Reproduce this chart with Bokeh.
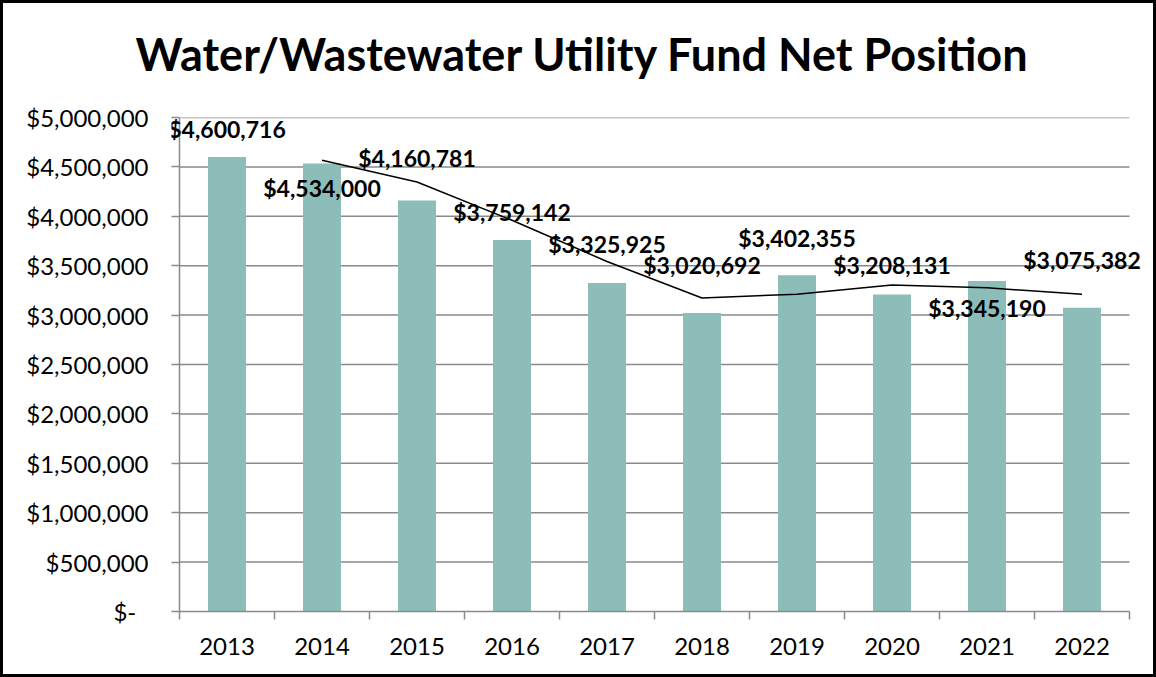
from bokeh.plotting import figure
from bokeh.models import Range1d, FixedTicker, ColumnDataSource, Label, Title
from bokeh.embed import file_html
from bokeh.resources import INLINE
import numpy as np

# ---- data ----
title = "Water/Wastewater Utility Fund Net Position"
years = ["2013", "2014", "2015", "2016", "2017", "2018", "2019", "2020", "2021", "2022"]
net_position = [4600716, 4534000, 4160781, 3759142, 3325925, 3020692, 3402355, 3208131, 3345190, 3075382]
y_ticks = [0, 500000, 1000000, 1500000, 2000000, 2500000, 3000000, 3500000, 4000000, 4500000, 5000000]
y_tick_labels = ["$-\u00a0\u00a0", "$500,000", "$1,000,000", "$1,500,000", "$2,000,000", "$2,500,000",
                 "$3,000,000", "$3,500,000", "$4,000,000", "$4,500,000", "$5,000,000"]

# label placement (pixel offsets, up = positive; style only)
label_y_offset = [27.5, -24, 42, 28, 38.5, 48.5, 37, 29.5, -27.5, 47.5]

FONT = "Lato"
BAR = "#8cbdb9"
GRID = "#8a8a8a"

n = len(years)
x = np.arange(n) + 0.5
# two-period moving average trendline (as in the source chart)
ma_x = x[1:]
ma_y = [(net_position[i - 1] + net_position[i]) / 2 for i in range(1, n)]

src = ColumnDataSource(dict(x=x, top=net_position))

# ---- layout (pixels) ----
W, H = 1156, 677
CAT_PX = 95.0                      # pixel width of one category
AX_L, AX_B, AX_T = 179, 611, 117   # value-axis left, zero line, top line
FRAME_L, FRAME_R = 171, 1142

p = figure(width=W, height=H, output_backend="svg", toolbar_location=None,
           x_range=Range1d((FRAME_L - AX_L) / CAT_PX, (FRAME_R - AX_L) / CAT_PX),
           y_range=Range1d(0, y_ticks[-1]),
           min_border_left=FRAME_L, min_border_right=W - FRAME_R,
           min_border_top=AX_T, min_border_bottom=H - AX_B,
           styles={"background-color": "white",
                   "box-shadow": "inset 0 0 0 3px black"})
p.outline_line_color = None
p.background_fill_color = None
p.border_fill_color = None

# main title (outermost panel)
p.title.text = title
p.title.text_font = FONT
p.title.text_font_style = "bold"
p.title.text_font_size = "45px"
p.title.text_color = "black"
p.title.align = "left"
p.title.offset = -36
p.title.standoff = 47
# small spacer between title and plot area
p.add_layout(Title(text="\u00a0", text_font=FONT, text_font_size="8px", standoff=1), "above")

# horizontal gridlines and value-axis line, limited to the plot span
p.segment(x0=0, x1=n, y0=y_ticks[1:], y1=y_ticks[1:], line_color=GRID, line_width=1.5)
p.segment(x0=0, x1=0, y0=0, y1=y_ticks[-1], line_color=GRID, line_width=1.5)

p.vbar(x="x", top="top", width=0.4, bottom=0, source=src, fill_color=BAR, line_color=None)
p.line(ma_x, ma_y, line_color="black", line_width=1.5)
for xi, v, off in zip(x, net_position, label_y_offset):
    p.add_layout(Label(x=xi, y=v, text="${:,}".format(v), y_offset=off,
                       text_font=FONT, text_font_style="bold", text_font_size="23px",
                       text_align="center", text_baseline="middle", text_color="black"))

# axes
p.xgrid.visible = False
p.ygrid.visible = False

p.yaxis.ticker = FixedTicker(ticks=y_ticks)
p.yaxis.major_label_overrides = {t: l for t, l in zip(y_ticks, y_tick_labels)}
p.yaxis.axis_line_color = None
p.yaxis.major_tick_line_color = GRID
p.yaxis.major_tick_line_width = 1.5
p.yaxis.major_tick_out = 0
p.yaxis.major_tick_in = 8
p.yaxis.minor_tick_line_color = None
p.yaxis.major_label_text_font = FONT
p.yaxis.major_label_text_font_size = "24px"
p.yaxis.major_label_text_color = "black"
p.yaxis.major_label_standoff = 23

p.xaxis.bounds = (0, n)
p.xaxis.ticker = FixedTicker(ticks=list(x), minor_ticks=list(range(n + 1)))
p.xaxis.major_label_overrides = {float(t): y for t, y in zip(x, years)}
p.xaxis.axis_line_color = GRID
p.xaxis.axis_line_width = 1.5
p.xaxis.major_tick_line_color = None
p.xaxis.major_tick_out = 0
p.xaxis.major_tick_in = 0
p.xaxis.minor_tick_line_color = GRID
p.xaxis.minor_tick_line_width = 1.5
p.xaxis.minor_tick_out = 8
p.xaxis.minor_tick_in = 0
p.xaxis.major_label_text_font = FONT
p.xaxis.major_label_text_font_size = "24px"
p.xaxis.major_label_text_color = "black"
p.xaxis.major_label_standoff = 18

open("out.html", "w").write(file_html(p, INLINE))
